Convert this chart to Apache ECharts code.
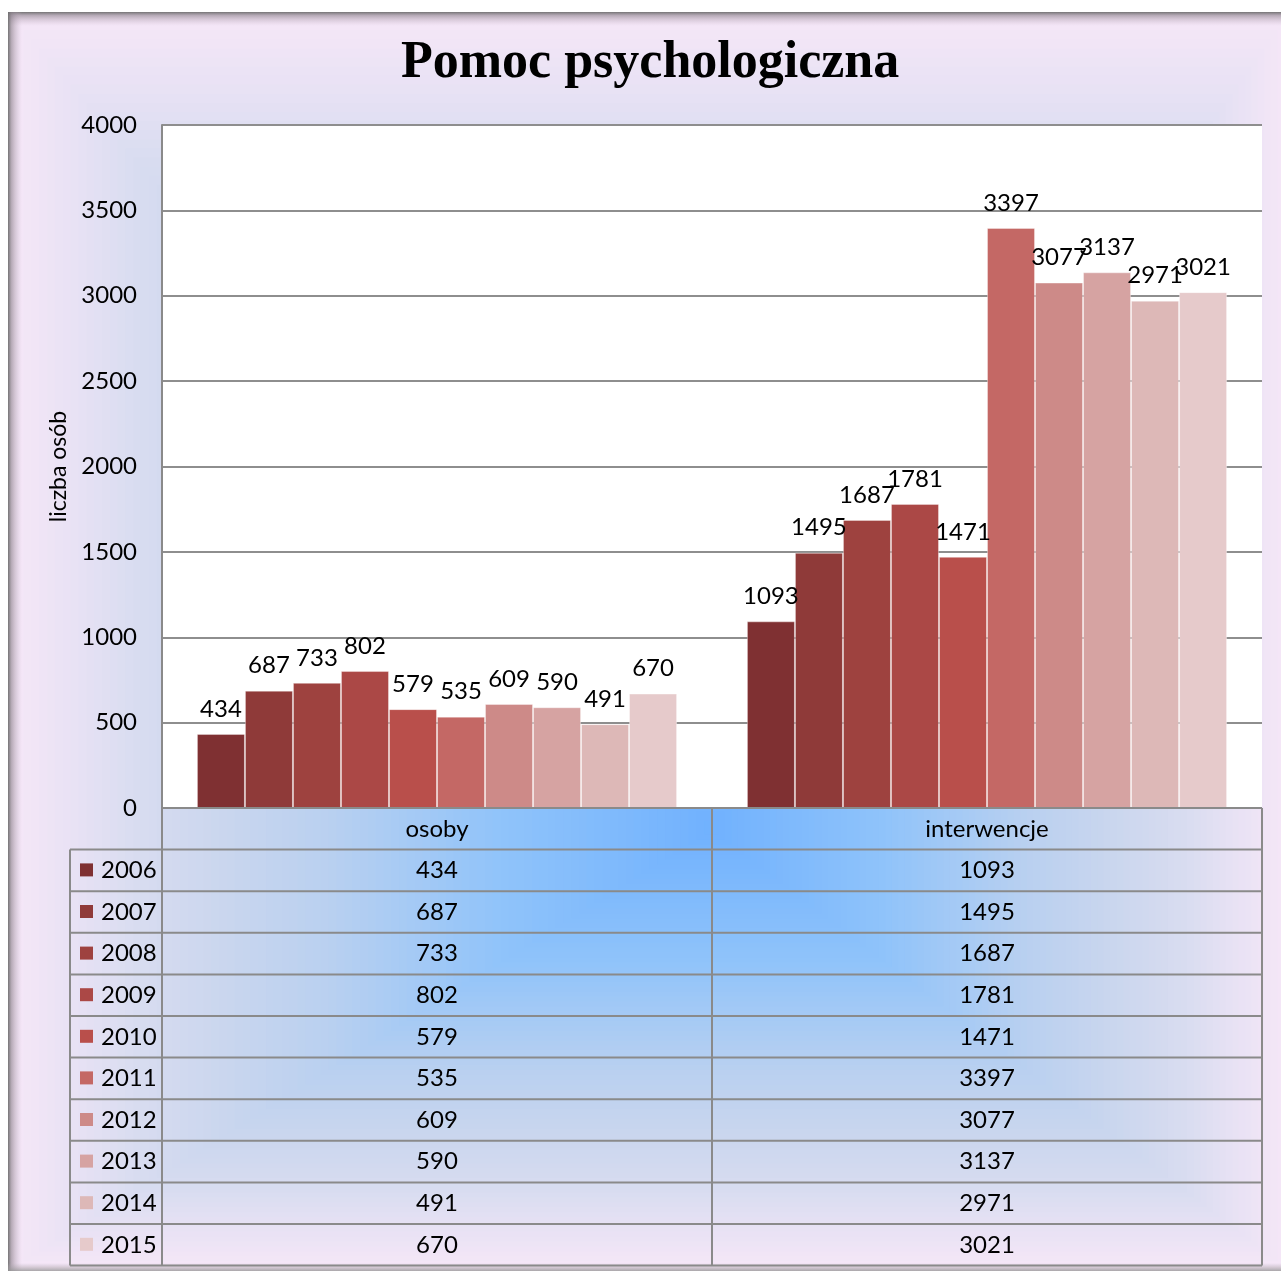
<!DOCTYPE html>
<html>
<head>
<meta charset="utf-8">
<script src="https://cdn.jsdelivr.net/npm/echarts@6/dist/echarts.min.js"></script>
<style>
  html, body { margin: 0; padding: 0; background: #ffffff; }
  #chart { width: 1281px; height: 1271px; }
</style>
</head>
<body>
<div id="chart"></div>
<script>
// ---- data ----
const titleText = 'Pomoc psychologiczna';
const yAxisName = 'liczba osób';
const categories = ['osoby', 'interwencje'];
const years = ['2006', '2007', '2008', '2009', '2010', '2011', '2012', '2013', '2014', '2015'];
const osoby = [434, 687, 733, 802, 579, 535, 609, 590, 491, 670];
const interwencje = [1093, 1495, 1687, 1781, 1471, 3397, 3077, 3137, 2971, 3021];
const yTicks = { min: 0, max: 4000, interval: 500 };
const yearColors = ['#7f3032', '#8f3a39', '#9e423f', '#ab4846', '#b94f4b',
                    '#c46865', '#cd8a88', '#d6a3a2', '#ddb8b7', '#e6cacb'];

// ---- layout ----
const W = 1281, H = 1271;
const G = { left: 162, top: 125, right: 1262, bottom: 808 };
const rowH = 41.6;
const FONT = 'Lato';
const FS = 24;

const chart = echarts.init(document.getElementById('chart'), null, { renderer: 'canvas' });

// background: rectangular path gradient
function hex2rgb(h) { return [parseInt(h.substr(1,2),16), parseInt(h.substr(3,2),16), parseInt(h.substr(5,2),16)]; }
const stops = [[0, '#70b1fe'], [0.3, '#8fc3fa'], [0.55, '#b9d0f0'], [0.7, '#cad6ee'], [0.82, '#d8dcf0'], [0.9, '#e6e1f4'], [1, '#f6e7f7']];
function colorAt(t) {
  for (let i = 1; i < stops.length; i++) {
    if (t <= stops[i][0]) {
      const a = stops[i-1], b = stops[i];
      const f = (t - a[0]) / (b[0] - a[0]);
      const ca = hex2rgb(a[1]), cb = hex2rgb(b[1]);
      return 'rgb(' + ca.map((v, k) => Math.round(v + (cb[k] - v) * f)).join(',') + ')';
    }
  }
  return stops[stops.length-1][1];
}
const frame = { x: 8, y: 12, x2: 1290, y2: 1271 };
const cx = 712, cy = 830;
const L = cx - frame.x, R = frame.x2 - cx, T = cy - frame.y, B = frame.y2 - cy;
const bg = [];
bg.push({ type: 'rect', z: -10, silent: true, shape: { x: frame.x, y: frame.y, width: frame.x2 - frame.x, height: frame.y2 - frame.y }, style: { fill: colorAt(1) } });
const N = 90;
for (let i = 0; i < N; i++) {
  const t = 1 - i / N;
  bg.push({ type: 'rect', z: -10, silent: true,
    shape: { x: cx - L * t, y: cy - T * t, width: (L + R) * t, height: (T + B) * t },
    style: { fill: colorAt(t) } });
}
// frame shadow
bg.push({ type: 'rect', z: -9, silent: true, shape: { x: frame.x, y: frame.y, width: W, height: 14 },
  style: { fill: new echarts.graphic.LinearGradient(0, 0, 0, 1, [{ offset: 0, color: 'rgba(110,110,110,0.95)' }, { offset: 0.25, color: 'rgba(140,130,140,0.6)' }, { offset: 1, color: 'rgba(200,180,200,0)' }]) } });
bg.push({ type: 'rect', z: -9, silent: true, shape: { x: frame.x, y: frame.y, width: 14, height: H },
  style: { fill: new echarts.graphic.LinearGradient(0, 0, 1, 0, [{ offset: 0, color: 'rgba(110,110,110,0.95)' }, { offset: 0.25, color: 'rgba(140,130,140,0.6)' }, { offset: 1, color: 'rgba(200,180,200,0)' }]) } });
bg.push({ type: 'rect', z: -9, silent: true, shape: { x: frame.x, y: 1263, width: W, height: 8 },
  style: { fill: new echarts.graphic.LinearGradient(0, 0, 0, 1, [{ offset: 0, color: 'rgba(180,170,180,0)' }, { offset: 1, color: 'rgba(150,150,150,0.8)' }]) } });

// data table drawn from arrays
const tbl = [];
const lineStyle = { stroke: '#8a8a8a', lineWidth: 2 };
const colX = [G.left, (G.left + G.right) / 2, G.right];
const tableLeft = 70;
const tableBottom = G.bottom + rowH * (years.length + 1);
tbl.push({ type: 'line', z: 5, shape: { x1: G.left, y1: G.bottom, x2: G.right, y2: G.bottom }, style: lineStyle });
for (let r = 1; r <= years.length + 1; r++) {
  const y = G.bottom + rowH * r;
  tbl.push({ type: 'line', z: 5, shape: { x1: tableLeft, y1: y, x2: G.right, y2: y }, style: lineStyle });
}
tbl.push({ type: 'line', z: 5, shape: { x1: tableLeft, y1: G.bottom + rowH, x2: tableLeft, y2: tableBottom }, style: lineStyle });
colX.forEach(x => tbl.push({ type: 'line', z: 5, shape: { x1: x, y1: G.bottom, x2: x, y2: tableBottom }, style: lineStyle }));
categories.forEach((c, i) => {
  tbl.push({ type: 'text', z: 6, x: (colX[i] + colX[i+1]) / 2, y: G.bottom + rowH / 2,
    style: { text: c, fontFamily: FONT, fontSize: FS, fill: '#000', align: 'center', verticalAlign: 'middle' } });
});
years.forEach((yr, r) => {
  const yc = G.bottom + rowH * (r + 1.5);
  tbl.push({ type: 'rect', z: 6, shape: { x: 80, y: yc - 7, width: 13, height: 13 }, style: { fill: yearColors[r] } });
  tbl.push({ type: 'text', z: 6, x: 101, y: yc,
    style: { text: yr, fontFamily: FONT, fontSize: FS, fill: '#000', align: 'left', verticalAlign: 'middle' } });
  [osoby[r], interwencje[r]].forEach((v, i) => {
    tbl.push({ type: 'text', z: 6, x: (colX[i] + colX[i+1]) / 2, y: yc,
      style: { text: String(v), fontFamily: FONT, fontSize: FS, fill: '#000', align: 'center', verticalAlign: 'middle' } });
  });
});

const series = years.map((yr, i) => ({
  name: yr,
  type: 'bar',
  data: [osoby[i], interwencje[i]],
  barGap: '0%',
  barCategoryGap: '12.7%',
  itemStyle: { color: yearColors[i], borderColor: 'rgba(255,255,255,0.35)', borderWidth: 1 },
  label: { show: true, position: 'top', distance: 13, color: '#000', fontFamily: FONT, fontSize: FS },
  z: 3
}));

chart.setOption({
  animation: false,
  backgroundColor: 'transparent',
  title: {
    text: titleText, left: 396, top: 33,
    textStyle: { fontFamily: 'Liberation Serif', fontWeight: 'bold', fontSize: 52, color: '#000' }
  },
  grid: { left: G.left, top: G.top, width: G.right - G.left, height: G.bottom - G.top,
    show: true, backgroundColor: '#ffffff', borderWidth: 0 },
  xAxis: {
    type: 'category', data: categories,
    axisLine: { show: false }, axisTick: { show: false }, axisLabel: { show: false }
  },
  yAxis: {
    type: 'value', min: yTicks.min, max: yTicks.max, interval: yTicks.interval,
    name: yAxisName, nameLocation: 'middle', nameGap: 90, nameRotate: 90,
    nameTextStyle: { fontFamily: FONT, fontSize: 23, color: '#000' },
    axisLine: { show: true, lineStyle: { color: '#8a8a8a', width: 2 } },
    axisTick: { show: false },
    axisLabel: { margin: 25, fontFamily: FONT, fontSize: FS, color: '#000', formatter: v => String(v) },
    splitLine: { show: true, lineStyle: { color: '#8e8e8e', width: 2 } }
  },
  series: series,
  graphic: bg.concat(tbl)
});
</script>
</body>
</html>
